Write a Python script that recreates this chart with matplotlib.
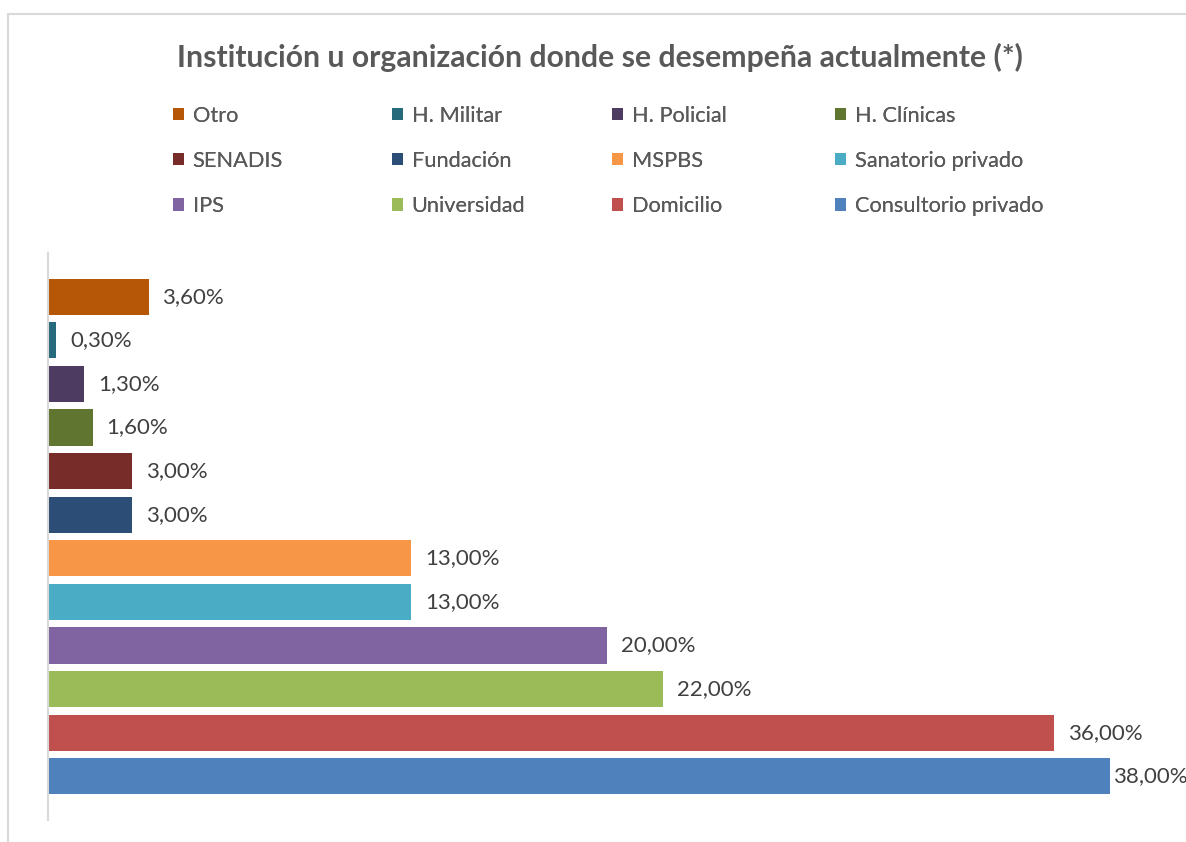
import matplotlib
matplotlib.use("Agg")
import matplotlib.pyplot as plt
from matplotlib.patches import Rectangle

plt.rcParams['font.family'] = ['Lato', 'DejaVu Sans']

# ---- data (top to bottom) ----
categories = ["Otro", "H. Militar", "H. Policial", "H. Clínicas", "SENADIS", "Fundación",
              "MSPBS", "Sanatorio privado", "IPS", "Universidad", "Domicilio", "Consultorio privado"]
values = [3.6, 0.3, 1.3, 1.6, 3.0, 3.0, 13.0, 13.0, 20.0, 22.0, 36.0, 38.0]
colors = ["#B65708", "#276A7C", "#4D3B62", "#5F7530", "#772C2A", "#2C4D75",
          "#F79646", "#4BACC6", "#8064A2", "#9BBB59", "#C0504D", "#4F81BD"]
title = "Institución u organización donde se desempeña actualmente (*)"

W, H = 1186, 842
fig = plt.figure(figsize=(W / 100, H / 100), dpi=100)

# chart border
fig.patches.append(Rectangle((8 / W, -0.2), 2.0, 1.2 - 14 / H, transform=fig.transFigure,
                             fill=False, edgecolor="#d9d9d9", linewidth=1.5))

ax = fig.add_axes([48 / W, 1 - 820 / H, 1 - 48 / W, (820 - 253) / H])
n = len(categories)
ypos = [n - 1 - i for i in range(n)]
bars = ax.barh(ypos, values, height=0.83, color=colors)

xmax = (W - 48) / 27.95
ax.set_xlim(0, xmax)
ax.set_ylim(-1, n)
ax.set_xticks([])
ax.set_yticks([])
for s in ["top", "right", "bottom"]:
    ax.spines[s].set_visible(False)
ax.spines["left"].set_color("#d9d9d9")
ax.spines["left"].set_linewidth(1.5)

for b, v in zip(bars, values):
    # labels near the right edge are pulled in closer to the bar (as Excel does)
    off = 10 if b.get_width() < 0.9 * xmax else 2
    ax.annotate(f"{v:.2f}".replace(".", ",") + "%",
                xy=(b.get_width(), b.get_y() + b.get_height() / 2),
                xytext=(off, 0), textcoords="offset points",
                ha="left", va="center", fontsize=16, color="#404040",
                annotation_clip=False)

fig.text(600 / W, 1 - 57 / H, title, ha="center", va="center",
         fontsize=21.7, fontweight="bold", color="#595959")

# legend: 4 columns, 3 rows, row-major order
col_x = [173, 392, 612, 835]
for c in range(4):
    idx = [c, c + 4, c + 8]
    leg = fig.legend([bars[i] for i in idx], [categories[i] for i in idx],
                     loc="center left", bbox_to_anchor=(col_x[c] / W, 1 - 161 / H),
                     frameon=False, fontsize=15.7, handlelength=0.5, handleheight=0.5,
                     handletextpad=0.4, labelspacing=1.15, borderpad=0, borderaxespad=0,
                     labelcolor="#595959")
    fig.add_artist(leg)

fig.savefig("out.png", dpi=100)
